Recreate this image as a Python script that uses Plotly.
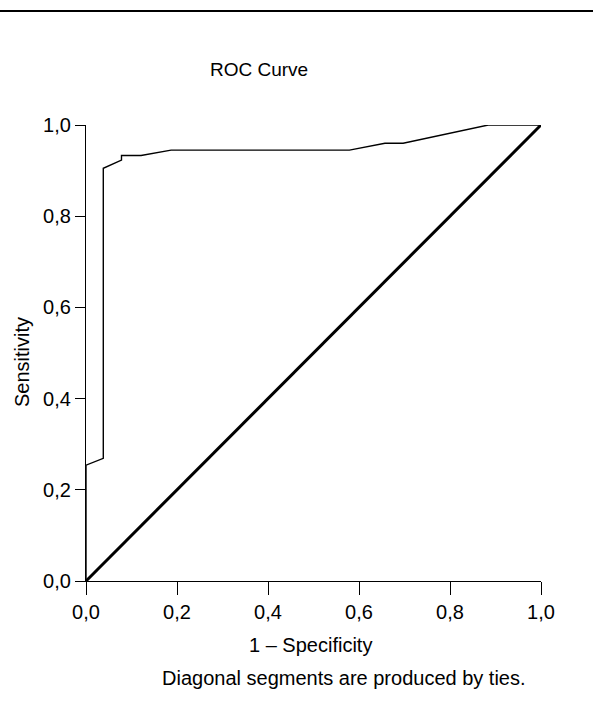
import plotly.graph_objects as go

# ROC curve points
fpr = [0.0, 0.0, 0.038, 0.038, 0.078, 0.078, 0.121, 0.187, 0.579, 0.657, 0.697, 0.884, 1.0]
tpr = [0.0, 0.254, 0.269, 0.905, 0.923, 0.933, 0.933, 0.945, 0.945, 0.960, 0.960, 1.0, 1.0]
ref_x = [0.0, 1.0]
ref_y = [0.0, 1.0]
tick_vals = [0.0, 0.2, 0.4, 0.6, 0.8, 1.0]
tick_text = ["0,0", "0,2", "0,4", "0,6", "0,8", "1,0"]

FONT = "Liberation Sans, Arial, sans-serif"
W, H = 593, 713
L, R, T, B = 86, 52, 125, 132
pw, ph = W - L - R, H - T - B

def px(x):
    return (x - L) / pw

def py(y):
    return (H - B - y) / ph

fig = go.Figure()
fig.add_trace(go.Scatter(x=fpr, y=tpr, mode="lines",
                         line=dict(color="black", width=1.4), showlegend=False))
fig.add_trace(go.Scatter(x=ref_x, y=ref_y, mode="lines",
                         line=dict(color="black", width=3), showlegend=False))

axis_common = dict(range=[0, 1], showgrid=False, zeroline=False, showline=True,
                   linecolor="black", linewidth=1.3, ticks="outside",
                   tickcolor="black", tickwidth=1.3, tickvals=tick_vals,
                   ticktext=tick_text, tickfont=dict(family=FONT, size=20, color="black"))
fig.update_xaxes(**axis_common, ticklen=13)
fig.update_yaxes(**axis_common, ticklen=10)

anns = [
    dict(text="ROC Curve", x=px(259), y=py(70), size=19),
    dict(text="1 – Specificity", x=px(310), y=py(645), size=20),
    dict(text="Diagonal segments are produced by ties.", x=px(344), y=py(678), size=20),
]
annotations = [dict(text=a["text"], x=a["x"], y=a["y"], xref="paper", yref="paper",
                    showarrow=False, xanchor="center", yanchor="middle",
                    font=dict(family=FONT, size=a["size"], color="black")) for a in anns]
annotations.append(dict(text="Sensitivity", x=px(22), y=py(362), xref="paper", yref="paper",
                        showarrow=False, textangle=-90, xanchor="center", yanchor="middle",
                        font=dict(family=FONT, size=20, color="black")))

fig.update_layout(
    width=W, height=H,
    margin=dict(l=L, r=R, t=T, b=B),
    paper_bgcolor="white", plot_bgcolor="white",
    annotations=annotations,
    hovermode=False,
    shapes=[dict(type="line", xref="paper", yref="paper",
                 x0=px(0), x1=px(W), y0=py(11), y1=py(11),
                 line=dict(color="black", width=2))],
)

fig.write_html("out.html", config={"displayModeBar": False},
               post_script="document.body.style.margin='0';")
